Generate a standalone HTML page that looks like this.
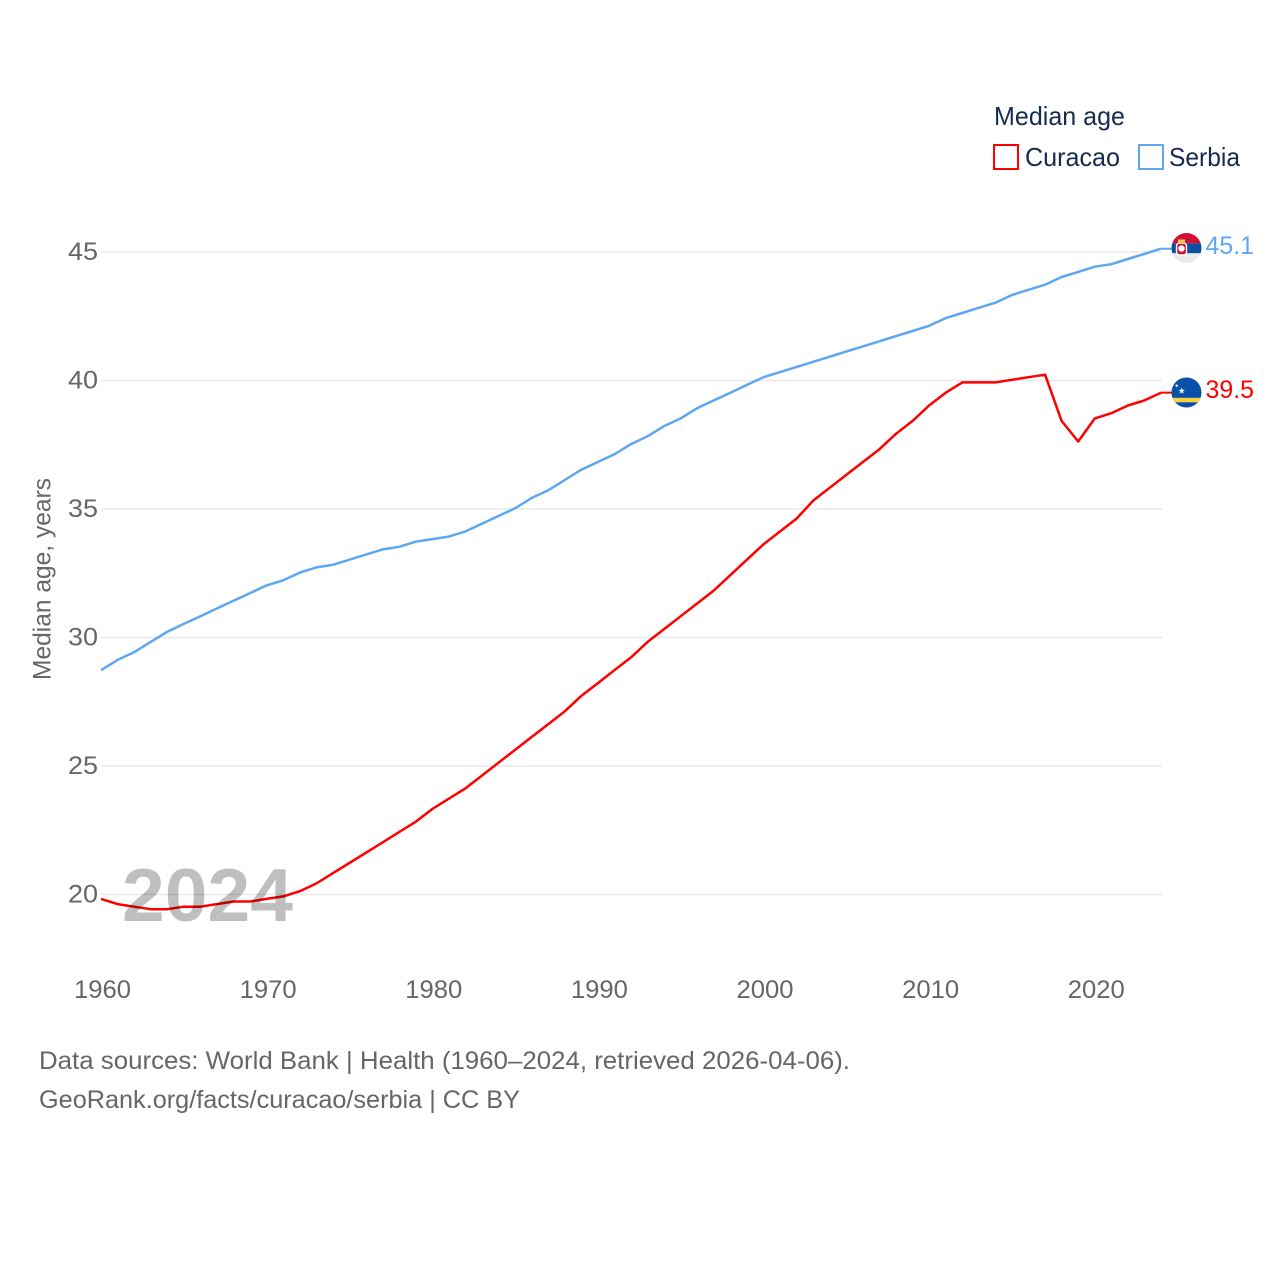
<!DOCTYPE html>
<html lang="en">
<head>
<meta charset="utf-8">
<title>Median age: Curacao and Serbia</title>
<style>
html,body{margin:0;padding:0;background:#fff;width:1280px;height:1280px;overflow:hidden}
svg{display:block;font-family:"Liberation Sans",sans-serif}
</style>
</head>
<body>
<svg id="chart" xmlns="http://www.w3.org/2000/svg" width="1280" height="1280" viewBox="0 0 1280 1280">
  <defs>
    <clipPath id="clip-rs"><circle cx="1186.5" cy="248" r="15"/></clipPath>
    <clipPath id="clip-cw"><circle cx="1186.5" cy="392.5" r="15"/></clipPath>
  </defs>
  <g id="grid"></g>
  <g id="yticks"></g>
  <g id="xticks"></g>
  <text transform="translate(50.5,680) rotate(-90)" font-size="25" fill="#666" textLength="202" lengthAdjust="spacingAndGlyphs">Median age, years</text>
  <g transform="translate(0,-0.7)">
    <path id="line-serbia" fill="none" stroke="#5ea7ee" stroke-width="2.5" stroke-linejoin="round"></path>
    <path id="line-curacao" fill="none" stroke="#ff0000" stroke-width="2.5" stroke-linejoin="round"></path>
    <path id="conn-serbia" fill="none" stroke="#5ea7ee" stroke-width="2"></path>
    <path id="conn-curacao" fill="none" stroke="#ff0000" stroke-width="2"></path>
  </g>
  <text x="122" y="921" font-size="75" font-weight="700" fill="#000" fill-opacity="0.25" textLength="171" lengthAdjust="spacingAndGlyphs">2024</text>

  <g clip-path="url(#clip-rs)">
    <rect x="1171" y="233" width="31" height="10.3" fill="#d20f34"/>
    <rect x="1171" y="243.3" width="31" height="10" fill="#0c4ea2"/>
    <rect x="1171" y="253.3" width="31" height="10" fill="#ebebeb"/>
    <rect x="1176.5" y="243" width="10" height="12" rx="3" fill="#d20f34" stroke="#fff" stroke-width="1.4"/>
    <circle cx="1181.5" cy="248.5" r="3.2" fill="#fff"/>
    <rect x="1178" y="239.5" width="7" height="3.5" fill="#edc948"/>
  </g>
  <g clip-path="url(#clip-cw)">
    <rect x="1171" y="377" width="31" height="31" fill="#0a4fa8"/>
    <rect x="1171" y="397.8" width="31" height="4.5" fill="#f8d144"/>
    <polygon points="1181.7,387.5 1182.6,389.8 1185,389.9 1183.1,391.4 1183.8,393.7 1181.7,392.4 1179.6,393.7 1180.3,391.4 1178.4,389.9 1180.8,389.8" fill="#e6eef8"/>
    <circle cx="1176.7" cy="385.7" r="1.2" fill="#fff"/>
  </g>
  <text x="1205.5" y="254" font-size="25" fill="#5ea7ee" textLength="48.5" lengthAdjust="spacingAndGlyphs">45.1</text>
  <text x="1205.5" y="398" font-size="25" fill="#ff0000" textLength="48.5" lengthAdjust="spacingAndGlyphs">39.5</text>

  <g>
    <text x="994" y="125" font-size="26" fill="#172b4d" textLength="131" lengthAdjust="spacingAndGlyphs">Median age</text>
    <rect x="994" y="145" width="24" height="24" fill="#fff" stroke="#ff0000" stroke-width="2"/>
    <text x="1025" y="166" font-size="26" fill="#172b4d" textLength="95" lengthAdjust="spacingAndGlyphs">Curacao</text>
    <rect x="1139" y="145" width="24" height="24" fill="#fff" stroke="#5ea7ee" stroke-width="2"/>
    <text x="1169" y="166" font-size="26" fill="#172b4d" textLength="71" lengthAdjust="spacingAndGlyphs">Serbia</text>
  </g>

  <text x="39" y="1069" font-size="25" fill="#666" textLength="811" lengthAdjust="spacingAndGlyphs">Data sources: World Bank | Health (1960–2024, retrieved 2026-04-06).</text>
  <text x="39" y="1108" font-size="25" fill="#666" textLength="481" lengthAdjust="spacingAndGlyphs">GeoRank.org/facts/curacao/serbia | CC BY</text>
</svg>
<script>
const years = [1960,1961,1962,1963,1964,1965,1966,1967,1968,1969,1970,1971,1972,1973,1974,1975,1976,1977,1978,1979,1980,1981,1982,1983,1984,1985,1986,1987,1988,1989,1990,1991,1992,1993,1994,1995,1996,1997,1998,1999,2000,2001,2002,2003,2004,2005,2006,2007,2008,2009,2010,2011,2012,2013,2014,2015,2016,2017,2018,2019,2020,2021,2022,2023,2024];
const serbiaValues = [28.7,29.1,29.4,29.8,30.2,30.5,30.8,31.1,31.4,31.7,32.0,32.2,32.5,32.7,32.8,33.0,33.2,33.4,33.5,33.7,33.8,33.9,34.1,34.4,34.7,35.0,35.4,35.7,36.1,36.5,36.8,37.1,37.5,37.8,38.2,38.5,38.9,39.2,39.5,39.8,40.1,40.3,40.5,40.7,40.9,41.1,41.3,41.5,41.7,41.9,42.1,42.4,42.6,42.8,43.0,43.3,43.5,43.7,44.0,44.2,44.4,44.5,44.7,44.9,45.1];
const curacaoValues = [19.8,19.6,19.5,19.4,19.4,19.5,19.5,19.6,19.7,19.7,19.8,19.9,20.1,20.4,20.8,21.2,21.6,22.0,22.4,22.8,23.3,23.7,24.1,24.6,25.1,25.6,26.1,26.6,27.1,27.7,28.2,28.7,29.2,29.8,30.3,30.8,31.3,31.8,32.4,33.0,33.6,34.1,34.6,35.3,35.8,36.3,36.8,37.3,37.9,38.4,39.0,39.5,39.9,39.9,39.9,40.0,40.1,40.2,38.4,37.6,38.5,38.7,39.0,39.2,39.5];
const yTickValues = [20,25,30,35,40,45];
const xTickValues = [1960,1970,1980,1990,2000,2010,2020];

const NS = 'http://www.w3.org/2000/svg';
function xScale(year){ return 101 + (year - 1960) * (1161 - 101) / 64; }
function yScale(value){ return 894.5 - (value - 20) * (894.5 - 252) / 25; }
function linePath(values){
  return values.map(function(v,i){ return (i ? 'L' : 'M') + xScale(years[i]).toFixed(1) + ' ' + yScale(v).toFixed(1); }).join(' ');
}

const grid = document.getElementById('grid');
const yticks = document.getElementById('yticks');
const xticks = document.getElementById('xticks');

yTickValues.forEach(function(v){
  const line = document.createElementNS(NS,'line');
  
  
  line.setAttribute('x1', 101);
  line.setAttribute('x2', 1162);
  line.setAttribute('y1', yScale(v));
  line.setAttribute('y2', yScale(v));
  line.setAttribute('stroke', '#e9e9e9');
  line.setAttribute('stroke-width', '1.5');
  grid.appendChild(line);

  const label = document.createElementNS(NS,'text');
  
  
  label.setAttribute('x', 68);
  label.setAttribute('y', yScale(v) + 8);
  label.setAttribute('textLength', '30');
  label.setAttribute('lengthAdjust', 'spacingAndGlyphs');
  label.setAttribute('font-size', '25');
  label.setAttribute('fill', '#666');
  label.textContent = v;
  yticks.appendChild(label);
});

xTickValues.forEach(function(y){
  const label = document.createElementNS(NS,'text');
  
  
  label.setAttribute('x', xScale(y) - 27);
  label.setAttribute('y', 998);
  label.setAttribute('textLength', '57');
  label.setAttribute('lengthAdjust', 'spacingAndGlyphs');
  label.setAttribute('font-size', '25');
  label.setAttribute('fill', '#666');
  label.textContent = y;
  xticks.appendChild(label);
});

document.getElementById('line-serbia').setAttribute('d', linePath(serbiaValues));
document.getElementById('line-curacao').setAttribute('d', linePath(curacaoValues));

const lastX = xScale(years[years.length - 1]);
document.getElementById('conn-serbia').setAttribute('d', 'M' + lastX + ' ' + yScale(serbiaValues[serbiaValues.length - 1]) + ' H1172');
document.getElementById('conn-curacao').setAttribute('d', 'M' + lastX + ' ' + yScale(curacaoValues[curacaoValues.length - 1]) + ' H1172');
</script>
</body>
</html>
